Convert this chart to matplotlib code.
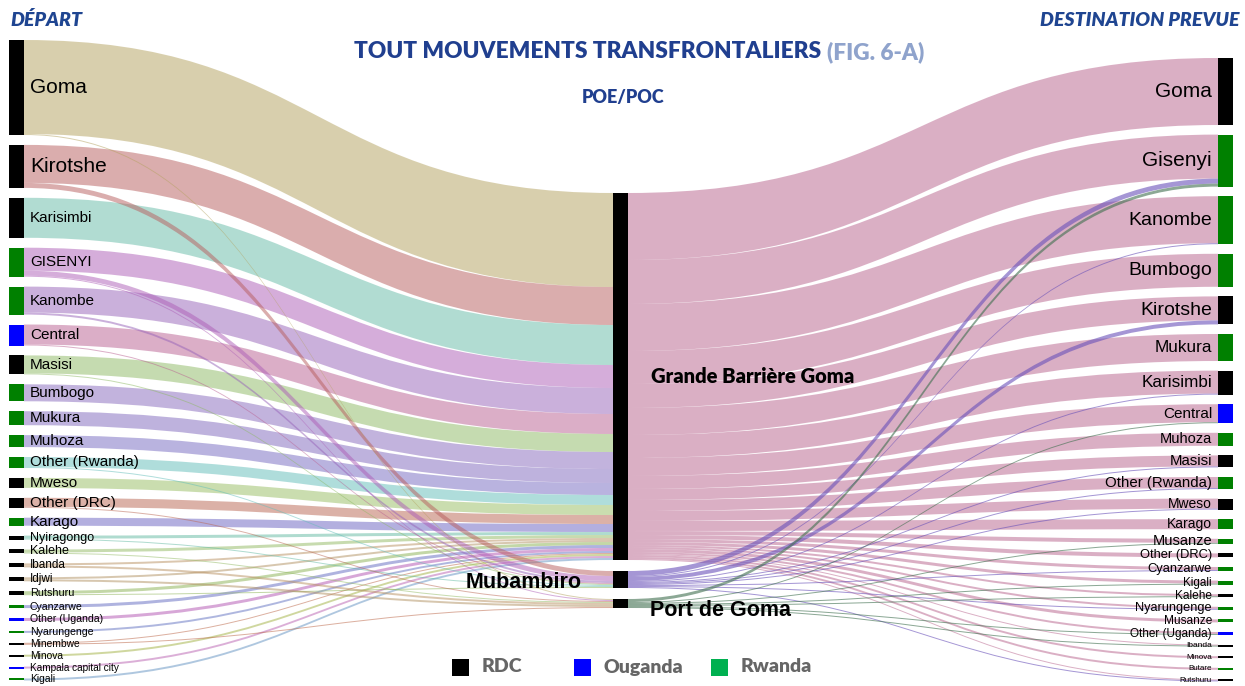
import matplotlib
matplotlib.use("Agg")
import matplotlib.pyplot as plt
from matplotlib.path import Path
from matplotlib.patches import PathPatch, Rectangle

# ---- data (flow sizes) ----
dep_names = ["Goma", "Kirotshe", "Karisimbi", "GISENYI", "Kanombe", "Central", "Masisi",
             "Bumbogo", "Mukura", "Muhoza", "Other (Rwanda)", "Mweso", "Other (DRC)", "Karago",
             "Nyiragongo", "Kalehe", "Ibanda", "Idjwi", "Rutshuru", "Cyanzarwe", "Other (Uganda)",
             "Nyarungenge", "Minembwe", "Minova", "Kampala capital city", "Kigali"]
dep_country = ["RDC", "RDC", "RDC", "RW", "RW", "UG", "RDC", "RW", "RW", "RW", "RW", "RDC", "RDC",
               "RW", "RDC", "RDC", "RDC", "RDC", "RDC", "RW", "UG", "RW", "RDC", "RDC", "UG", "RW"]
dep_to_gb = [94, 38, 40, 23, 26, 20, 18, 17, 14, 12, 10, 10, 9, 8, 3, 3, 2, 2, 3, 3, 3, 2, 1, 2, 2, 2]
dep_to_mub = [0, 5, 0, 5, 2, 1, 1, 0, 0, 0, 1, 0, 0, 0, 1, 0, 0, 0, 1, 0, 0, 0, 0, 0, 0, 0]
dep_to_pdg = [1, 0, 0, 1, 0, 0, 0, 0, 0, 0, 0, 0, 1, 0, 0, 1, 2, 2, 0, 0, 0, 0, 1, 0, 0, 0]

poe_names = ["Grande Barrière Goma", "Mubambiro", "Port de Goma"]

dest_names = ["Goma", "Gisenyi", "Kanombe", "Bumbogo", "Kirotshe", "Mukura", "Karisimbi", "Central",
              "Muhoza", "Masisi", "Other (Rwanda)", "Mweso", "Karago", "Musanze", "Other (DRC)",
              "Cyanzarwe", "Kigali", "Kalehe", "Nyarungenge", "Musanze", "Other (Uganda)", "Ibanda",
              "Minova", "Butare", "Rutshuru"]
dest_country = ["RDC", "RW", "RW", "RW", "RDC", "RW", "RDC", "UG", "RW", "RDC", "RW", "RDC", "RW",
                "RW", "RDC", "RW", "RW", "RDC", "RW", "RW", "UG", "RDC", "RDC", "RW", "RDC"]
gb_to_dest = [67, 44, 47, 33, 24, 27, 23, 18, 13, 11, 11, 10, 10, 4, 4, 3, 3, 2, 2, 3, 2, 1, 2, 2, 1]
mub_to_dest = [0, 5, 1, 0, 4, 0, 1, 0, 0, 1, 1, 1, 0, 0, 0, 1, 0, 0, 1, 0, 0, 0, 0, 0, 1]
pdg_to_dest = [0, 3, 0, 0, 0, 0, 0, 1, 0, 0, 0, 0, 0, 1, 0, 0, 1, 1, 0, 0, 1, 1, 0, 0, 0]

legend_labels = ["RDC", "Ouganda", "Rwanda"]

# ---- styles ----
country_col = {"RDC": "black", "UG": "#0000ff", "RW": "#008000"}
dep_colors = ["#b3a15d", "#b75d5d", "#65bba7", "#ad5db7", "#9763b9", "#b95f91", "#8db963",
              "#8769bd", "#7f67bd", "#7569c1", "#61bdb9", "#97bd61", "#b96551", "#6961c1",
              "#61b9a1", "#91b961", "#b99161", "#b19161", "#89b151", "#6169c1", "#b151b1",
              "#6171c1", "#b96141", "#a1b141", "#b961b1", "#6191c1"]
poe_colors = ["#b7618b", "#6951b9", "#3f6f4f"]
dep_fs = [15, 15, 11, 11, 11, 11, 11, 11, 11, 11, 11, 11, 11, 11, 9, 9, 8.5, 8.5, 7.8, 7.6, 7.6,
          7.6, 7.4, 7.4, 7.2, 7.4]
dest_fs = [15, 15, 14, 14, 14, 12.3, 12.3, 11, 10.5, 10.8, 10.8, 10, 10, 10.5, 9.3, 9.3, 8.4, 8.6,
           9.2, 8.6, 8.5, 6, 5.8, 5.8, 5.8]

X_L, X_M, X_R, BW = 9, 613, 1218, 15
K = 1.0  # px per unit


def stack(sizes, top, gap):
    ys, y = [], top
    for s in sizes:
        ys.append(y)
        y += s * K + gap
    return ys


def band(ax, x0, y0, x1, y1, w, color, alpha):
    xm = (x0 + x1) / 2
    verts = [(x0, y0), (xm, y0), (xm, y1), (x1, y1), (x1, y1 + w),
             (xm, y1 + w), (xm, y0 + w), (x0, y0 + w), (x0, y0)]
    codes = [Path.MOVETO, Path.CURVE4, Path.CURVE4, Path.CURVE4, Path.LINETO,
             Path.CURVE4, Path.CURVE4, Path.CURVE4, Path.CLOSEPOLY]
    ax.add_patch(PathPatch(Path(verts, codes), fc=color, ec="none", alpha=alpha, zorder=1))


left_in = [list(t) for t in zip(dep_to_gb, dep_to_mub, dep_to_pdg)]
right_out = [gb_to_dest, mub_to_dest, pdg_to_dest]
dep_size = [sum(r) for r in left_in]
dest_size = [sum(c) for c in zip(*right_out)]
poe_size = [max(sum(r[j] for r in left_in), sum(right_out[j])) for j in range(3)]

y_dep = stack(dep_size, 40, 9.9)
y_poe = stack(poe_size, 193, 11)
y_dest = stack(dest_size, 58, 9.6)

fig = plt.figure(figsize=(12.45, 6.86), dpi=100)
ax = fig.add_axes([0, 0, 1, 1])
ax.set_xlim(0, 1245)
ax.set_ylim(686, 0)
ax.axis("off")

# left flows
links = []
in_off = [0, 0, 0]
for i, row in enumerate(left_in):
    off = 0
    for j, v in enumerate(row):
        if v:
            links.append((j, y_dep[i] + off, y_poe[j] + in_off[j], v * K, dep_colors[i]))
        off += v * K
        in_off[j] += v * K
for j, y0, y1, w, c in sorted(links, key=lambda t: t[0]):
    band(ax, X_L + BW, y0, X_M, y1, w, c, 0.5)

# right flows
dest_off = [0] * len(dest_names)
for j, vals in enumerate(right_out):
    off = 0
    for k, v in enumerate(vals):
        if v:
            band(ax, X_M + BW, y_poe[j] + off, X_R, y_dest[k] + dest_off[k], v * K,
                 poe_colors[j], 0.5 if j == 0 else 0.6)
        off += v * K
        dest_off[k] += v * K

# nodes and labels
for i, name in enumerate(dep_names):
    ax.add_patch(Rectangle((X_L, y_dep[i]), BW, dep_size[i] * K, fc=country_col[dep_country[i]], zorder=3))
    ax.text(X_L + BW + 6, y_dep[i] + dep_size[i] * K / 2, name, fontsize=dep_fs[i],
            family="Liberation Sans", va="center", ha="left", zorder=4)
for k, name in enumerate(dest_names):
    ax.add_patch(Rectangle((X_R, y_dest[k]), BW, dest_size[k] * K, fc=country_col[dest_country[k]], zorder=3))
    ax.text(X_R - 6, y_dest[k] + dest_size[k] * K / 2, name, fontsize=dest_fs[k],
            family="Liberation Sans", va="center", ha="right", zorder=4)
for j, name in enumerate(poe_names):
    ax.add_patch(Rectangle((X_M, y_poe[j]), BW, poe_size[j] * K, fc="black", zorder=3))
yc = [y_poe[j] + poe_size[j] * K / 2 for j in range(3)]
ax.text(X_M + BW + 23, yc[0], poe_names[0], fontsize=14.5, family="Lato", weight="heavy", va="center", zorder=4)
ax.text(X_M - 31, yc[1] + 3, poe_names[1], fontsize=15.5, family="Liberation Sans", weight="bold",
        va="center", ha="right", zorder=4)
ax.text(X_M + BW + 22, yc[2] + 7, poe_names[2], fontsize=15.5, family="Liberation Sans", weight="bold",
        va="center", ha="left", zorder=4)

# titles
blue = "#1f4591"
ax.text(821, 52, "TOUT MOUVEMENTS TRANSFRONTALIERS", fontsize=16.3, family="Lato", weight="heavy",
        color="#203f8f", ha="right", va="center")
ax.text(827, 52, "(FIG. 6-A)", fontsize=16.3, family="Lato", weight="heavy", color="#8fa3cc",
        ha="left", va="center")
ax.text(623, 97, "POE/POC", fontsize=13, family="Lato", weight="heavy", color="#203f8f",
        ha="center", va="center")
ax.text(10, 20, "DÉPART", fontsize=14, family="Lato", weight="heavy", style="italic", color=blue,
        ha="left", va="center")
ax.text(1240, 20, "DESTINATION PREVUE", fontsize=14, family="Lato", weight="heavy", style="italic",
        color=blue, ha="right", va="center")

# legend
leg_x = [452, 574, 711]
leg_c = ["black", "#0000ff", "#00b050"]
for x, c, lab in zip(leg_x, leg_c, legend_labels):
    ax.add_patch(Rectangle((x, 659), 17, 17, fc=c, zorder=3))
    ax.text(x + 30, 667, lab, fontsize=14, family="Lato", weight="heavy", color="#666666",
            ha="left", va="center")

fig.savefig("out.png", dpi=100)
